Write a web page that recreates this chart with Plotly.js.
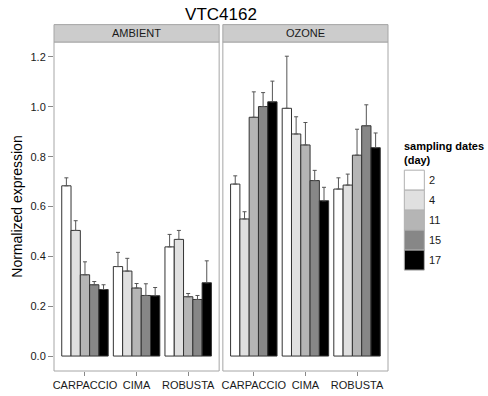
<!DOCTYPE html>
<html>
<head>
<meta charset="utf-8">
<script src="https://cdn.plot.ly/plotly-3.0.1.min.js"></script>
<style>html,body{margin:0;padding:0;background:#fff;}#chart{width:488px;height:396px;}</style>
</head>
<body>
<div id="chart"></div>
<script>
// ---- data ----
const cultivars = ["CARPACCIO", "CIMA", "ROBUSTA"];
const days = ["2", "4", "11", "15", "17"];
const panels = ["AMBIENT", "OZONE"];
const dayColors = ["#ffffff", "#e0e0e0", "#b5b5b5", "#878787", "#000000"];

// AMBIENT means per sampling date (CARPACCIO, CIMA, ROBUSTA)
const ambient_d2  = [0.683, 0.359, 0.438];
const ambient_d4  = [0.504, 0.341, 0.468];
const ambient_d11 = [0.326, 0.273, 0.238];
const ambient_d15 = [0.286, 0.243, 0.227];
const ambient_d17 = [0.267, 0.242, 0.294];
// AMBIENT upper error
const ambient_e2  = [0.032, 0.057, 0.050];
const ambient_e4  = [0.039, 0.051, 0.036];
const ambient_e11 = [0.052, 0.018, 0.013];
const ambient_e15 = [0.013, 0.047, 0.016];
const ambient_e17 = [0.019, 0.033, 0.088];

// OZONE means
const ozone_d2  = [0.690, 0.994, 0.670];
const ozone_d4  = [0.550, 0.891, 0.686];
const ozone_d11 = [0.958, 0.847, 0.806];
const ozone_d15 = [1.001, 0.704, 0.924];
const ozone_d17 = [1.020, 0.623, 0.836];
// OZONE upper error
const ozone_e2  = [0.033, 0.209, 0.045];
const ozone_e4  = [0.029, 0.069, 0.044];
const ozone_e11 = [0.102, 0.090, 0.104];
const ozone_e15 = [0.056, 0.041, 0.084];
const ozone_e17 = [0.083, 0.054, 0.059];

const yTicks = [0.0, 0.2, 0.4, 0.6, 0.8, 1.0, 1.2];

// ---- build ----
const ambMeans = [ambient_d2, ambient_d4, ambient_d11, ambient_d15, ambient_d17];
const ambErrs  = [ambient_e2, ambient_e4, ambient_e11, ambient_e15, ambient_e17];
const ozMeans  = [ozone_d2, ozone_d4, ozone_d11, ozone_d15, ozone_d17];
const ozErrs   = [ozone_e2, ozone_e4, ozone_e11, ozone_e15, ozone_e17];

const FONT = "Liberation Sans, Arial, Helvetica, sans-serif";
const traces = [];
function addPanel(means, errs, xa) {
  days.forEach((d, i) => {
    traces.push({
      type: "bar",
      name: d,
      x: cultivars,
      y: means[i],
      xaxis: xa,
      yaxis: "y",
      marker: { color: dayColors[i], line: { color: "#333333", width: 1 } },
      error_y: {
        type: "data", symmetric: false,
        array: errs[i], arrayminus: errs[i].map(() => 0),
        color: "#555555", thickness: 1, width: 2
      },
      showlegend: false,
      hoverinfo: "x+y"
    });
  });
}
addPanel(ambMeans, ambErrs, "x");
addPanel(ozMeans, ozErrs, "x2");

// geometry (pixels)
const W = 488, H = 396;
const mL = 54, mR = 100.3, mT = 41.7, mB = 25;
const pw = W - mL - mR, ph = H - mT - mB;
const px = v => (v - mL) / pw;
const py = v => (H - mB - v) / ph;

const shapes = [];
const annotations = [];
// panel borders and strips
[["x", "AMBIENT"], ["x2", "OZONE"]].forEach(([xa, label], k) => {
  shapes.push({ type: "rect", xref: xa + " domain", yref: "y domain", x0: 0, x1: 1, y0: 0, y1: 1,
    line: { color: "#a6a6a6", width: 1 }, fillcolor: "rgba(0,0,0,0)", layer: "above" });
  shapes.push({ type: "rect", xref: xa + " domain", yref: "paper", x0: 0, x1: 1, y0: 1, y1: py(24.3),
    line: { color: "#a6a6a6", width: 1 }, fillcolor: "#cccccc" });
  annotations.push({ xref: xa + " domain", yref: "paper", x: 0.5, y: (1 + py(24.3)) / 2,
    text: panels[k], showarrow: false, xanchor: "center", yanchor: "middle",
    font: { family: FONT, size: 11, color: "#1a1a1a" } });
});

// legend (custom, ggplot-style)
annotations.push({ xref: "paper", yref: "paper", x: px(402), y: py(168), xanchor: "left", yanchor: "bottom",
  align: "left", showarrow: false, text: "<b>sampling dates<br>(day)</b>",
  font: { family: FONT, size: 11, color: "#000" } });
days.forEach((d, i) => {
  const top = 170 + 20 * i;
  shapes.push({ type: "rect", xref: "paper", yref: "paper", x0: px(404), x1: px(424), y0: py(top), y1: py(top + 20),
    fillcolor: dayColors[i], line: { color: "#b0b0b0", width: 1 } });
  annotations.push({ xref: "paper", yref: "paper", x: px(426.5), y: py(top + 10), xanchor: "left", yanchor: "middle",
    showarrow: false, text: d, font: { family: FONT, size: 11, color: "#1a1a1a" } });
});

const xaxisBase = {
  type: "category", range: [-0.6, 2.6], showgrid: false, zeroline: false, showline: false,
  ticks: "outside", ticklen: 4, tickcolor: "#888888", tickwidth: 1,
  tickfont: { family: FONT, size: 11, color: "#1a1a1a" }, fixedrange: true
};

const layout = {
  width: W, height: H,
  margin: { l: mL, r: mR, t: mT, b: mB, pad: 0 },
  paper_bgcolor: "#ffffff", plot_bgcolor: "#ffffff",
  barmode: "group", bargap: 0.1, bargroupgap: 0,
  showlegend: false,
  title: { text: "VTC4162", x: 221 / W, xref: "container", xanchor: "center",
    y: 1 - 14 / H, yref: "container", yanchor: "middle",
    font: { family: FONT, size: 17, color: "#000" } },
  xaxis: Object.assign({}, xaxisBase, { domain: [0, px(219)], anchor: "y" }),
  xaxis2: Object.assign({}, xaxisBase, { domain: [px(222.7), 1], anchor: "y" }),
  yaxis: {
    range: [-0.06, 1.26], tickvals: yTicks, ticktext: yTicks.map(v => v.toFixed(1)),
    showgrid: false, zeroline: false, showline: false,
    ticks: "outside", ticklen: 5, tickcolor: "#888888", tickwidth: 1,
    tickfont: { family: FONT, size: 11, color: "#1a1a1a" },
    title: { text: "Normalized expression", standoff: 4, font: { family: FONT, size: 14, color: "#000" } },
    anchor: "x", fixedrange: true
  },
  shapes: shapes,
  annotations: annotations,
  font: { family: FONT }
};

Plotly.newPlot("chart", traces, layout, { displayModeBar: false, staticPlot: true });
</script>
</body>
</html>
